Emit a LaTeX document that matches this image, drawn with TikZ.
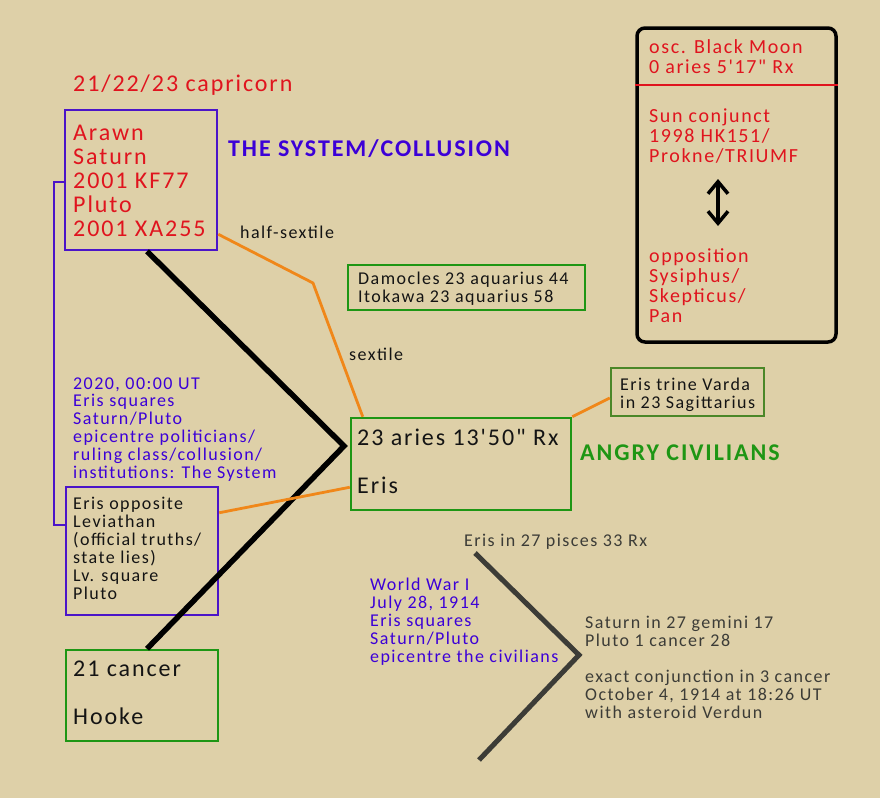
\documentclass[tikz,border=0pt]{standalone}
\usepackage{fontspec}
\setmainfont{Carlito}[LetterSpace=8,Ligatures=TeXOff]
\usetikzlibrary{arrows.meta}
\definecolor{bg}{RGB}{222,208,168}
\definecolor{tred}{RGB}{224,20,30}
\definecolor{tblue}{RGB}{60,0,215}
\definecolor{pbox}{RGB}{75,20,200}
\definecolor{gbox}{RGB}{30,150,20}
\definecolor{obox}{RGB}{75,135,40}
\definecolor{oline}{RGB}{240,135,25}
\definecolor{tgray}{RGB}{60,60,55}
\definecolor{tblack}{RGB}{20,20,20}
\begin{document}
\begin{tikzpicture}[x=1pt,y=-1pt,
  big/.style={inner sep=0pt,anchor=base west,align=left,font=\fontsize{24}{24}\selectfont},
  mid/.style={inner sep=0pt,anchor=base west,align=left,font=\fontsize{20}{20}\selectfont},
  small/.style={inner sep=0pt,anchor=base west,align=left,font=\fontsize{18}{18}\selectfont},
  boxp/.style={draw=pbox,line width=2.5pt,inner sep=0pt},
  boxg/.style={draw=gbox,line width=2.5pt,inner sep=0pt},
  boxo/.style={draw=obox,line width=2.5pt,inner sep=0pt},
  oconn/.style={draw=oline,line width=2.8pt},
  kconn/.style={draw=black,line width=5.5pt},
  gconn/.style={draw=tgray,line width=5pt},
  pconn/.style={draw=pbox,line width=2pt},
  barb/.tip={Straight Barb[length=12pt,width=20pt]}]
\useasboundingbox (0,0) rectangle (880,798);
\fill[bg] (0,0) rectangle (880,798);

% boxes
\node[boxp,minimum width=152pt,minimum height=140pt] (b1) at (141,180) {};
\node[boxp,minimum width=152pt,minimum height=128pt] (b2) at (142,551) {};
\node[boxg,minimum width=237pt,minimum height=45pt] (dam) at (466.5,287.5) {};
\node[boxg,minimum width=220pt,minimum height=92pt] (eris) at (461,464) {};
\node[boxo,minimum width=153pt,minimum height=48pt] (trine) at (687.5,392) {};
\node[boxg,minimum width=152pt,minimum height=91pt] (hooke) at (142,695.5) {};
\node[draw=black,line width=3.5pt,rounded corners=8pt,inner sep=0pt,minimum width=199pt,minimum height=314pt] (rbox) at (736.5,185) {};

% texts (base anchor = baseline of last line)
\node[big,text=tred] (cap) at (73,91) {21/22/23 capricorn};
\node[big,text=tred] (t1) at (73,236.7) {Arawn\\Saturn\\2001 KF77\\Pluto\\2001 XA255};
\node[big,text=tblue,font=\fontsize{24}{24}\selectfont\bfseries] (sys) at (228,156.5) {THE SYSTEM/COLLUSION};
\node[small,text=tblack] (hs) at (240,238) {half-sextile};
\node[small,text=tblack] (sx) at (349,360) {sextile};
\node[small,text=tblack] (tdam) at (358,302) {Damocles 23 aquarius 44\\Itokawa 23 aquarius 58};
\node[big,text=tblack] (teris) at (357,493.5) {23 aries 13'50" Rx\\[24pt]Eris};
\node[big,text=gbox,font=\fontsize{24}{24}\selectfont\bfseries] (angry) at (580,460.5) {ANGRY CIVILIANS};
\node[small,text=tblack] (ttrine) at (620,408) {Eris trine Varda\\in 23 Sagittarius};
\node[mid,text=tred] (r1) at (649,73.4) {osc. Black Moon\\0 aries 5'17" Rx};
\node[mid,text=tred] (r2) at (649,162.4) {Sun conjunct\\1998 HK151/\\Prokne/TRIUMF};
\node[mid,text=tred] (r3) at (649,322) {opposition\\Sysiphus/\\Skepticus/\\Pan};
\node[inner sep=0pt,anchor=base west,align=left,font=\fontsize{18}{17.8}\selectfont,text=tblue] (t2020) at (73,478) {2020, 00:00 UT\\Eris squares\\Saturn/Pluto\\epicentre politicians/\\ruling class/collusion/\\institutions: The System};
\node[small,text=tblack] (tb2) at (73,599) {Eris opposite\\Leviathan\\(official truths/\\state lies)\\Lv. square\\Pluto};
\node[big,text=tblack] (thooke) at (73,724.5) {21 cancer\\[24pt]Hooke};
\node[small,text=tgray] (tpisces) at (464,546) {Eris in 27 pisces 33 Rx};
\node[small,text=tblue] (tww) at (370,662) {World War I\\July 28, 1914\\Eris squares\\Saturn/Pluto\\epicentre the civilians};
\node[small,text=tgray] (tsat) at (585,718.5) {Saturn in 27 gemini 17\\Pluto 1 cancer 28\\[18pt]exact conjunction in 3 cancer\\October 4, 1914 at 18:26 UT\\with asteroid Verdun};

% connectors
\coordinate (apex) at (344,446);
\coordinate (bend1) at (313,283);
\coordinate (c1) at (475,553);
\coordinate (c2) at (579,655);
\coordinate (c3) at (479,760);
\coordinate (a1) at (718,179);
\coordinate (a2) at (718,226);

\draw[kconn] ([xshift=6pt]b1.south) -- (apex) -- ([xshift=5pt]hooke.north);
\draw[oconn] ([yshift=17pt]b1.south east) -- (bend1) -- ([xshift=13pt]eris.north west);
\draw[oconn] ([yshift=24pt]eris.south west) -- ([yshift=-27pt]b2.north east);
\draw[oconn] (eris.north east) -- ([yshift=-6pt]trine.west);
\draw[pconn] ([yshift=-2pt]b1.west) -- ++(-10pt,0) |- ([yshift=-39pt]b2.north west);
\draw[gconn] (c1) -- (c2) -- (c3);
\draw[tred,line width=2pt] ([yshift=-59pt]rbox.north west) -- ([yshift=-59pt]rbox.north east);
\draw[line width=3.5pt,{barb}-{barb}] (a1) -- (a2);
\end{tikzpicture}
\end{document}
